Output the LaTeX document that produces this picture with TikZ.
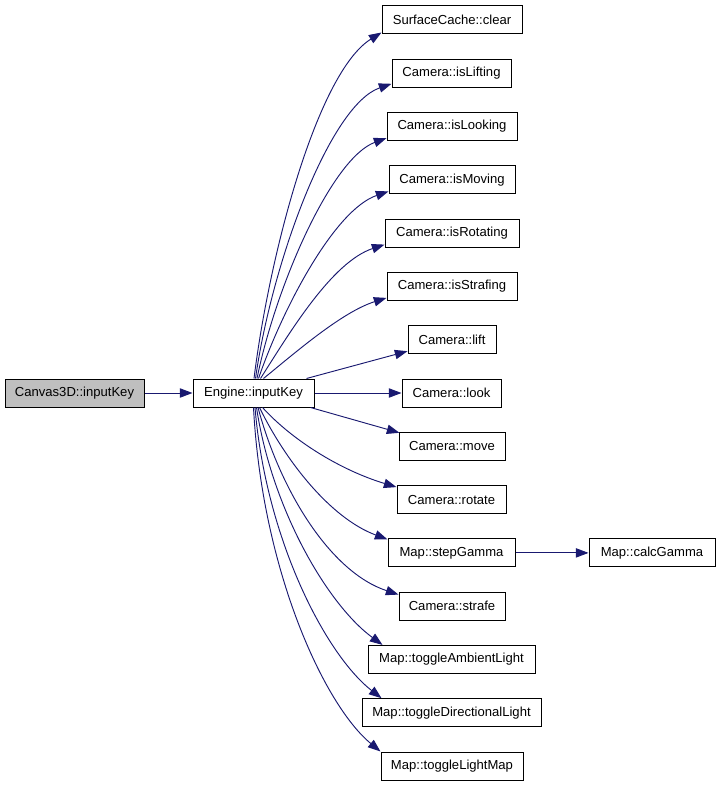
\documentclass[tikz,border=0pt]{standalone}
\usepackage{fontspec}
\setmainfont{Liberation Sans}
\usetikzlibrary{arrows.meta,calc}
\definecolor{edgeblue}{RGB}{25,25,112}
\definecolor{rootgray}{RGB}{191,191,191}
\begin{document}
\begin{tikzpicture}[x=0.75pt,y=-0.75pt,
  box/.style={draw=black,line width=0.75pt,fill=white,minimum height=21pt,inner sep=0pt,
    font=\fontsize{9.8}{11}\selectfont},
  edge/.style={draw=edgeblue,line width=0.7pt,-{Triangle[length=9.5pt,width=7pt]}}]
\useasboundingbox (0,0) rectangle (720,787);
% nodes
\node[box,fill=rootgray,minimum width=104.25pt] (canvas) at (74.5,393) {Canvas3D::inputKey};
\node[box,minimum width=90.75pt] (engine) at (253.5,393) {Engine::inputKey};
\node[box,minimum width=105pt] (sc) at (452,20) {SurfaceCache::clear};
\node[box,minimum width=89.25pt] (islift) at (451.5,73.3) {Camera::isLifting};
\node[box,minimum width=97.5pt] (islook) at (452,126.6) {Camera::isLooking};
\node[box,minimum width=94.5pt] (ismove) at (452,179.9) {Camera::isMoving};
\node[box,minimum width=100.5pt] (isrot) at (452,233.1) {Camera::isRotating};
\node[box,minimum width=97.5pt] (isstrafe) at (452,286.4) {Camera::isStrafing};
\node[box,minimum width=66pt] (lift) at (452,339.7) {Camera::lift};
\node[box,minimum width=74.25pt] (look) at (451.5,393) {Camera::look};
\node[box,minimum width=79.5pt] (move) at (452,446.3) {Camera::move};
\node[box,minimum width=81.75pt] (rotate) at (451.5,499.6) {Camera::rotate};
\node[box,minimum width=95.25pt] (step) at (451.5,552.9) {Map::stepGamma};
\node[box,minimum width=94.5pt] (calc) at (652,552.9) {Map::calcGamma};
\node[box,minimum width=79.5pt] (strafe) at (452,606.1) {Camera::strafe};
\node[box,minimum width=125.25pt] (amb) at (451.5,659.4) {Map::toggleAmbientLight};
\node[box,minimum width=134.25pt] (dir) at (451.5,712.7) {Map::toggleDirectionalLight};
\node[box,minimum width=106.5pt] (lmap) at (452,766) {Map::toggleLightMap};
% edges
\draw[edge] (canvas.east) -- (engine.west);
\draw[edge] ($(engine.north)+(0.5,0)$) .. controls (270,250) and (318,72) .. ($(sc.south west)+(0,-2)$);
\draw[edge] ($(engine.north)+(2,0)$) .. controls (272,262) and (330,105) .. ($(islift.south west)+(0,-4)$);
\draw[edge] ($(engine.north)+(3.5,0)$) .. controls (276,285) and (332,158) .. ($(islook.south west)+(0,-3)$);
\draw[edge] ($(engine.north)+(5,0)$) .. controls (282,310) and (334,210) .. ($(ismove.south west)+(0,-3)$);
\draw[edge] ($(engine.north)+(7,0)$) .. controls (290,332) and (332,262) .. ($(isrot.south west)+(0,-3)$);
\draw[edge] ($(engine.north)+(10,0)$) .. controls (296,352) and (342,312) .. ($(isstrafe.south west)+(0,-3)$);
\draw[edge] ($(engine.north east)+(-8,0)$) -- ($(lift.south west)+(0,-3)$);
\draw[edge] (engine.east) -- (look.west);
\draw[edge] ($(engine.south east)+(-4,0)$) -- ($(move.north west)+(1,1)$);
\draw[edge] ($(engine.south)+(9,0)$) .. controls (292,440) and (340,470) .. ($(rotate.north west)+(0,2)$);
\draw[edge] ($(engine.south)+(6,0)$) .. controls (285,460) and (330,518) .. ($(step.north west)+(0,1)$);
\draw[edge] ($(engine.south)+(4.5,0)$) .. controls (280,490) and (330,572) .. ($(strafe.north west)+(0,3)$);
\draw[edge] ($(engine.south)+(3,0)$) .. controls (272,510) and (328,605) .. ($(amb.north west)+(15,0)$);
\draw[edge] ($(engine.south)+(1.5,0)$) .. controls (266,540) and (326,655) .. ($(dir.north west)+(20,0)$);
\draw[edge] ($(engine.south)+(0,0)$) .. controls (262,570) and (324,705) .. ($(lmap.north west)+(0,0)$);
\draw[edge] (step.east) -- (calc.west);
\end{tikzpicture}
\end{document}
